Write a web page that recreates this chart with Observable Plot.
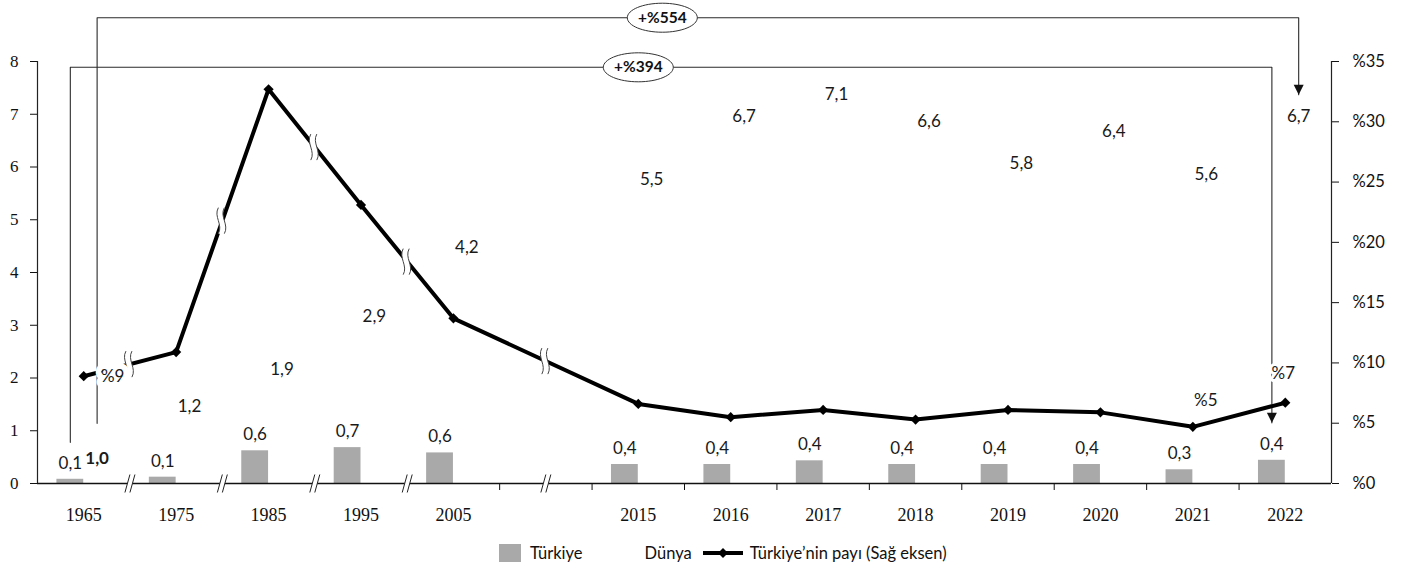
<!DOCTYPE html>
<html>
<head>
<meta charset="utf-8">
<script src="https://cdn.jsdelivr.net/npm/d3@7"></script>
<script src="https://cdn.jsdelivr.net/npm/@observablehq/plot@0.6"></script>
<style>
  body { margin: 0; background: #fff; font-family: Lato, sans-serif; color: #111; }
  #legend { display: flex; align-items: center; height: 41px; padding-left: 499px; font-size: 16.5px; }
  #legend .sw { width: 22px; height: 18px; background: #a9a9a9; margin-right: 9px; }
  #legend .gap { width: 62px; }
  #legend svg { margin: 0 6px 0 10px; }
</style>
</head>
<body>
<div id="chart"></div>
<div id="legend">
  <div class="sw"></div><span>Türkiye</span>
  <div class="gap"></div>
  <span>Dünya</span>
  <svg width="42" height="12"><line x1="1" y1="6" x2="41" y2="6" stroke="#000" stroke-width="4"/><path d="M21,1 L26,6 L21,11 L16,6 Z" fill="#000"/></svg>
  <span>Türkiye’nin payı (Sağ eksen)</span>
</div>
<script>
// ---- data ----
const years   = ["1965","1975","1985","1995","2005","2015","2016","2017","2018","2019","2020","2021","2022"];
const turkiye = [0.08, 0.12, 0.62, 0.68, 0.58, 0.36, 0.36, 0.43, 0.36, 0.36, 0.36, 0.26, 0.44];
const dunya   = [1.0, 1.2, 1.9, 2.9, 4.2, 5.5, 6.7, 7.1, 6.6, 5.8, 6.4, 5.6, 6.7];
const share   = [8.9, 10.9, 32.7, 23.1, 13.7, 6.6, 5.5, 6.1, 5.3, 6.1, 5.9, 4.7, 6.7]; // % (right axis)
const leftTicks  = [0, 1, 2, 3, 4, 5, 6, 7, 8];
const rightTicks = [0, 5, 10, 15, 20, 25, 30, 35];
const changeLabels = ["+%394", "+%554"];

// ---- derived ----
const K = 8 / 35;                       // right axis (%) -> left axis units
const slotOf = i => (i < 5 ? i : i + 1); // an empty slot between 2005 and 2015
const rows = years.map((y, i) => ({year: y, s: slotOf(i), tr: turkiye[i], du: dunya[i], sh: share[i], shy: share[i] * K}));
const fmt = v => v.toFixed(1).replace(".", ",");
const barW = 0.29;
const first = rows[0], last = rows[rows.length - 1];
const yearBySlot = new Map(rows.map(d => [d.s, d.year]));
const bounds = d3.range(4.5, 13, 1);
const axisBreaks = [0.5, 1.5, 2.5, 3.5, 5].map(x => ({x, y: 0}));
const squiggles = d3.pairs(rows.slice(0, 6)).map(([a, b]) => ({x: (a.s + b.s) / 2, y: (a.shy + b.shy) / 2}));

// annotation brackets (Türkiye bars, Dünya bars)
const lvl1 = 7.89, lvl2 = 8.83;
const b1x0 = first.s - barW / 2, b1x1 = last.s - barW / 2;
const b2x0 = first.s + barW / 2, b2x1 = last.s + barW / 2;
const bracket1 = [{x: b1x0, y: first.tr + 0.7}, {x: b1x0, y: lvl1}, {x: b1x1, y: lvl1}, {x: b1x1, y: last.tr + 0.71}];
const bracket2 = [{x: b2x0, y: first.du + 0.14}, {x: b2x0, y: lvl2}, {x: b2x1, y: lvl2}, {x: b2x1, y: last.du + 0.67}];
const arrows = [bracket1[3], bracket2[3]];
const ovals = [{x: rows[5].s, y: lvl1, t: changeLabels[0]}, {x: rows[5].s + 0.26, y: lvl2, t: changeLabels[1]}];

// ---- custom symbols ----
const breakFill = {draw(c) { c.moveTo(-5, 9); c.lineTo(0, -9); c.lineTo(5, -9); c.lineTo(0, 9); c.closePath(); }};
const breakLines = {draw(c) { c.moveTo(-5, 9); c.lineTo(0, -9); c.moveTo(0, 9); c.lineTo(5, -9); }};
const sqFill = {draw(c) {
  c.moveTo(-4, -13); c.bezierCurveTo(-9, -4, 1, 4, -4, 13);
  c.lineTo(2, 13); c.bezierCurveTo(7, 4, -3, -4, 2, -13); c.closePath();
}};
const sqLines = {draw(c) {
  c.moveTo(-4, -13); c.bezierCurveTo(-9, -4, 1, 4, -4, 13);
  c.moveTo(2, -13); c.bezierCurveTo(-3, -4, 7, 4, 2, 13);
}};
const oval = {draw(c) {
  const rx = 35, ry = 14.5, k = 0.5523;
  c.moveTo(rx, 0);
  c.bezierCurveTo(rx, ry * k, rx * k, ry, 0, ry);
  c.bezierCurveTo(-rx * k, ry, -rx, ry * k, -rx, 0);
  c.bezierCurveTo(-rx, -ry * k, -rx * k, -ry, 0, -ry);
  c.bezierCurveTo(rx * k, -ry, rx, -ry * k, rx, 0);
  c.closePath();
}};
const downTri = {draw(c) { c.moveTo(-5, -10); c.lineTo(5, -10); c.lineTo(0, 0); c.closePath(); }};

const chart = Plot.plot({
  width: 1403, height: 532,
  marginLeft: 37, marginRight: 72, marginTop: 61, marginBottom: 49,
  x: {type: "linear", domain: [-0.5, 13.5]},
  y: {domain: [0, 8]},
  style: {fontFamily: "Lato, sans-serif", fontSize: "17px", color: "#111", background: "#fff"},
  marks: [
    // brackets
    Plot.line(bracket1, {x: "x", y: "y", stroke: "#2a2a2a", strokeWidth: 1.1}),
    Plot.line(bracket2, {x: "x", y: "y", stroke: "#2a2a2a", strokeWidth: 1.1}),
    Plot.dot(arrows, {x: "x", y: "y", symbol: downTri, fill: "#111", stroke: "none"}),
    // bars
    Plot.rectY(rows, {x1: d => d.s - barW, x2: d => d.s, y: "tr", fill: "#a9a9a9"}),
    // axes
    Plot.ruleY([0], {stroke: "#111", strokeWidth: 1.5}),
    Plot.ruleX([-0.5, 13.5], {y1: 0, y2: 8, stroke: "#222", strokeWidth: 1.2}),
    Plot.axisY({anchor: "left", ticks: leftTicks, tickSize: 7, tickPadding: 12, label: null,
                fontFamily: "Liberation Serif", fontSize: 17}),
    Plot.axisY({anchor: "right", ticks: rightTicks.map(p => p * K), tickFormat: v => "%" + Math.round(v / K),
                tickSize: 7, tickPadding: 14, label: null, fontSize: 16.5}),
    Plot.axisX({ticks: rows.map(d => d.s), tickFormat: s => yearBySlot.get(s), tickSize: 0, tickPadding: 25,
                label: null, fontFamily: "Liberation Serif", fontSize: 18}),
    Plot.axisX({ticks: bounds, tickFormat: () => "", tickSize: 7, label: null}),
    Plot.dot(axisBreaks, {x: "x", y: "y", symbol: breakFill, fill: "#fff", stroke: "none"}),
    Plot.dot(axisBreaks, {x: "x", y: "y", symbol: breakLines, fill: "none", stroke: "#222", strokeWidth: 1}),
    // share line
    Plot.line(rows, {x: "s", y: "shy", stroke: "#000", strokeWidth: 4, strokeLinejoin: "round"}),
    Plot.dot(squiggles, {x: "x", y: "y", symbol: sqFill, fill: "#fff", stroke: "none"}),
    Plot.dot(squiggles, {x: "x", y: "y", symbol: sqLines, fill: "none", stroke: "#444", strokeWidth: 1}),
    Plot.dot(rows, {x: "s", y: "shy", symbol: "diamond2", r: 4.6, fill: "#000", stroke: "none"}),
    // labels
    Plot.text(rows, {x: d => d.s - barW / 2, y: "tr", text: d => fmt(d.tr), dy: -16, fill: "#1a1a1a"}),
    Plot.text(rows.slice(1), {x: d => d.s + barW / 2, y: "du", text: d => fmt(d.du), dy: -14, fill: "#1a1a1a"}),
    Plot.text(rows.slice(0, 1), {x: d => d.s + barW / 2, y: "du", text: d => fmt(d.du), dy: 28, fontWeight: "bold", fontSize: 17, fill: "#1a1a1a"}),
    Plot.text(rows.slice(0, 1), {x: "s", y: "shy", text: d => "%" + Math.round(d.sh), dx: 29, fill: "#1a1a1a", stroke: "#fff", strokeWidth: 12}),
    Plot.text(rows.slice(11, 12), {x: "s", y: "shy", text: d => "%" + Math.round(d.sh), dx: 13, dy: -26, fill: "#1a1a1a", stroke: "#fff", strokeWidth: 5}),
    Plot.text(rows.slice(12), {x: "s", y: "shy", text: d => "%" + Math.round(d.sh), dx: -2, dy: -29, fill: "#1a1a1a", stroke: "#fff", strokeWidth: 6}),
    // change ovals
    Plot.dot(ovals, {x: "x", y: "y", symbol: oval, fill: "#fff", stroke: "#333", strokeWidth: 1}),
    Plot.text(ovals, {x: "x", y: "y", text: "t", fontWeight: "bold", fontSize: 15.5, fill: "#111"})
  ]
});
document.getElementById("chart").appendChild(chart);
</script>
</body>
</html>
